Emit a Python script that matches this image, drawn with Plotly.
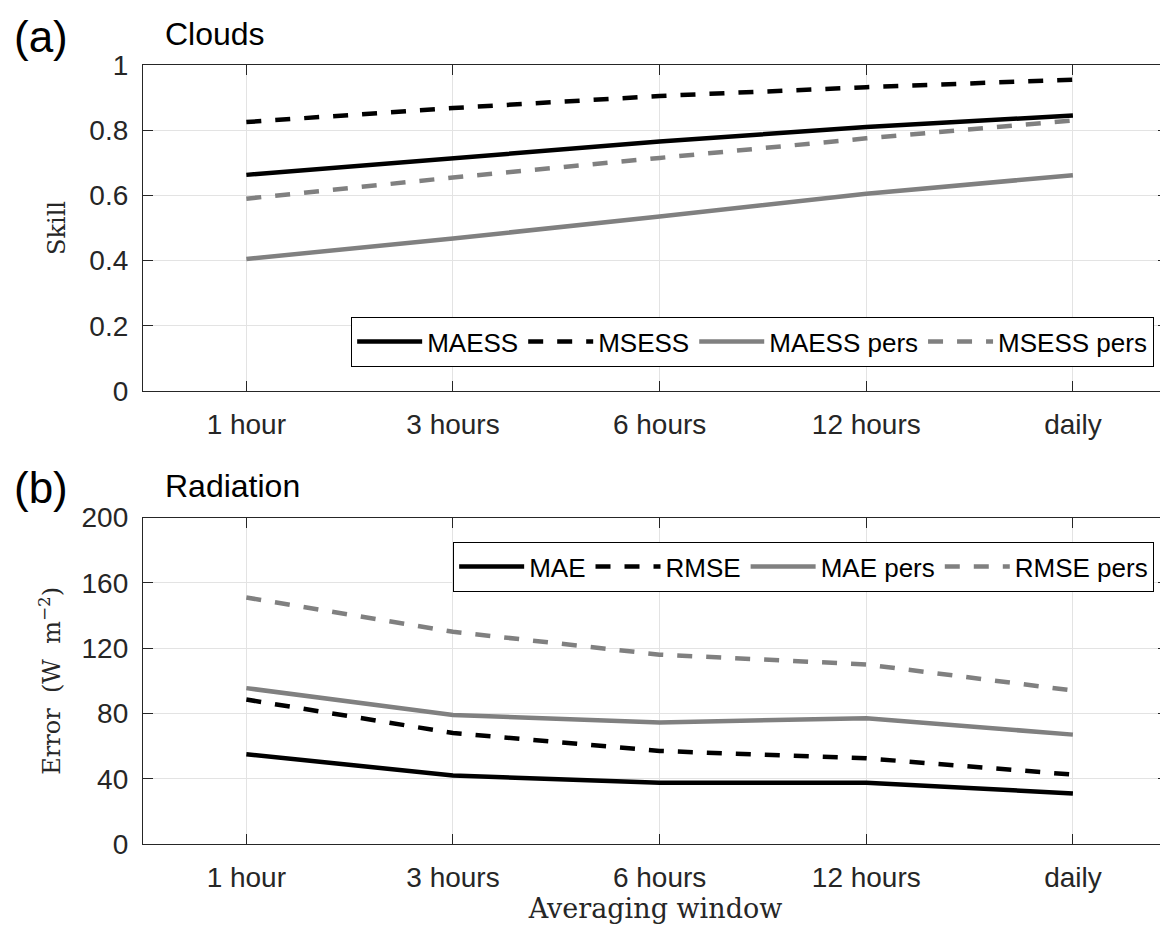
import plotly.graph_objects as go
from plotly.subplots import make_subplots

categories = ["1 hour", "3 hours", "6 hours", "12 hours", "daily"]

maess = [0.663, 0.715, 0.765, 0.81, 0.845]
msess = [0.825, 0.868, 0.905, 0.932, 0.955]
maess_pers = [0.405, 0.468, 0.535, 0.605, 0.662]
msess_pers = [0.59, 0.655, 0.715, 0.775, 0.83]

mae = [55, 42, 37.5, 37.5, 31]
rmse = [88.5, 68, 57, 52.5, 42.5]
mae_pers = [95.5, 79, 74.5, 77, 67]
rmse_pers = [151, 130, 116, 110, 94]

skill_ticks = [0, 0.2, 0.4, 0.6, 0.8, 1]
skill_labels = ["0", "0.2", "0.4", "0.6", "0.8", "1"]
error_ticks = [0, 40, 80, 120, 160, 200]

xi = list(range(len(categories)))

BLACK = "#000000"
GRAY = "#808080"
DASH = "15px,14px"
LW = 4.5

fig = make_subplots(rows=2, cols=1, vertical_spacing=0.0)

top = [
    ("MAESS", maess, BLACK, "solid"),
    ("MSESS", msess, BLACK, DASH),
    ("MAESS pers", maess_pers, GRAY, "solid"),
    ("MSESS pers", msess_pers, GRAY, DASH),
]
bot = [
    ("MAE", mae, BLACK, "solid"),
    ("RMSE", rmse, BLACK, DASH),
    ("MAE pers", mae_pers, GRAY, "solid"),
    ("RMSE pers", rmse_pers, GRAY, DASH),
]
for name, vals, col, dash in top:
    fig.add_trace(go.Scatter(x=xi, y=vals, mode="lines", name=name,
                             line=dict(color=col, width=LW, dash=dash),
                             legend="legend"), row=1, col=1)
for name, vals, col, dash in bot:
    fig.add_trace(go.Scatter(x=xi, y=vals, mode="lines", name=name,
                             line=dict(color=col, width=LW, dash=dash),
                             legend="legend2"), row=2, col=1)

AX = "#262626"
SANS = "Liberation Sans, Arial, sans-serif"
SERIF = "DejaVu Serif, Liberation Serif, serif"
tickfont = dict(family=SANS, size=28, color=AX)

fig.update_xaxes(
    range=[-0.5, 4.46], tickmode="array", tickvals=xi, ticktext=categories,
    showgrid=True, gridcolor="#e3e3e3", gridwidth=1,
    showline=True, linecolor=AX, linewidth=1.3, mirror="ticks",
    ticks="inside", ticklen=10, tickcolor=AX, tickwidth=1.2, tickfont=tickfont,
    zeroline=False, ticklabelstandoff=8, domain=[0, 1],
)
fig.update_yaxes(showgrid=True, gridcolor="#e3e3e3", gridwidth=1,
                 showline=True, linecolor=AX, linewidth=1.3, mirror="ticks",
                 ticks="inside", ticklen=10, tickcolor=AX, tickwidth=1.2, tickfont=tickfont,
                 zeroline=False, ticklabelstandoff=8)

fig.update_yaxes(range=[0, 1], tickmode="array", tickvals=skill_ticks, ticktext=skill_labels,
                 domain=[0.5815, 1.0],
                 title=dict(text="Skill", font=dict(family=SERIF, size=24, color=AX), standoff=16),
                 row=1, col=1)
fig.update_yaxes(range=[0, 200], tickmode="array", tickvals=error_ticks,
                 domain=[0.0, 0.4191],
                 title=dict(text="Error\u00a0 (W\u00a0 m<sup>−2</sup>)",
                            font=dict(family=SERIF, size=24, color=AX), standoff=14),
                 row=2, col=1)
fig.update_xaxes(title=dict(text="Averaging window", font=dict(family=SERIF, size=27, color=AX), standoff=6),
                 row=2, col=1)

legend_font = dict(family=SANS, size=26, color="#000000")
fig.update_layout(
    width=1160, height=922,
    margin=dict(l=135, r=0, t=57, b=86),
    paper_bgcolor="white", plot_bgcolor="white",
    showlegend=True,
    legend=dict(orientation="h", x=0.9863, xanchor="right", y=0.6123, yanchor="bottom",
                bordercolor="#000000", borderwidth=1.2, bgcolor="white",
                font=legend_font, itemwidth=65, tracegroupgap=0),
    legend2=dict(orientation="h", x=0.9863, xanchor="right", y=0.3877, yanchor="top",
                 bordercolor="#000000", borderwidth=1.2, bgcolor="white",
                 font=legend_font, itemwidth=65, tracegroupgap=0),
    annotations=[
        dict(text="(a)", xref="paper", yref="paper", x=-0.1278, y=1.036,
             xanchor="left", yanchor="middle", showarrow=False,
             font=dict(family=SANS, size=44, color="#000000")),
        dict(text="Clouds", xref="paper", yref="paper", x=0.0195, y=1.0398,
             xanchor="left", yanchor="middle", showarrow=False,
             font=dict(family=SANS, size=32, color="#000000")),
        dict(text="(b)", xref="paper", yref="paper", x=-0.1278, y=0.457,
             xanchor="left", yanchor="middle", showarrow=False,
             font=dict(family=SANS, size=44, color="#000000")),
        dict(text="Radiation", xref="paper", yref="paper", x=0.0195, y=0.4596,
             xanchor="left", yanchor="middle", showarrow=False,
             font=dict(family=SANS, size=32, color="#000000")),
    ],
)

fig.write_html("out.html")
